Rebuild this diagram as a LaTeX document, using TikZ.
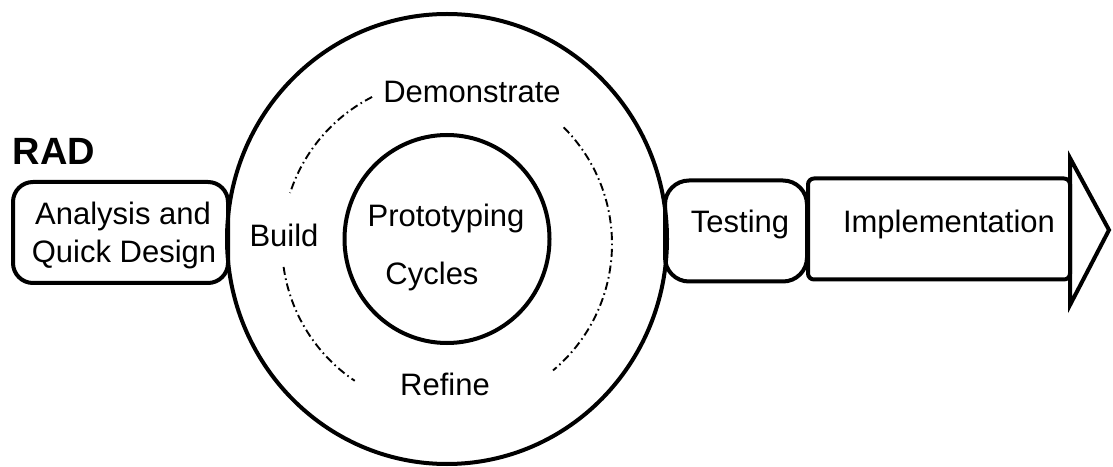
\documentclass[tikz,border=0pt]{standalone}
\usepackage{fontspec}
\setmainfont{Liberation Sans}
\begin{document}
\begin{tikzpicture}[x=0.5pt,y=0.5pt,
  heavy/.style={line width=2pt},
  txt/.style={font=\fontsize{15.5}{18.5}\selectfont, inner sep=0pt, anchor=base},
  stagebox/.style={draw, heavy, inner sep=0pt, minimum height=50.5pt},
  cycleline/.style={line width=0.95pt, dash pattern=on 4pt off 1.8pt on 0.8pt off 1.8pt},
]
\useasboundingbox (0,0) rectangle (1113,466);

% title
\node[txt, font=\fontsize{19}{22}\selectfont\bfseries] (rad) at (54,301) {RAD};

% first stage
\node[stagebox, rounded corners=10pt, minimum width=107.5pt] (analysis) at (120.5,233.5) {};
\node[txt] (analysisA) at (123,241) {Analysis and};
\node[txt] (analysisB) at (124,203) {Quick Design};

% prototyping cycles
\coordinate (c) at (447,227);
\coordinate (cd) at (447,222);
\draw[heavy] (c) ellipse [x radius=220, y radius=225];
\draw[heavy] (c) ellipse [x radius=102.5, y radius=104];

\draw[cycleline] ([shift={(117:165)}]cd) arc[start angle=117, end angle=162, radius=165];
\draw[cycleline] ([shift={(188:165)}]cd) arc[start angle=188, end angle=236, radius=165];
\draw[cycleline] ([shift={(45:165)}]cd) arc[start angle=45, end angle=-50, radius=165];

\node[txt] (demo) at (472,363) {Demonstrate};
\node[txt] (build) at (284,219) {Build};
\node[txt] (refine) at (445,71) {Refine};
\node[txt] (proto) at (446,239) {Prototyping};
\node[txt] (cycles) at (432,181) {Cycles};

% testing
\node[stagebox, rounded corners=12pt, minimum width=71pt] (testing) at (736,235) {};
\node[txt] (testingT) at (740,233) {Testing};

% implementation arrow
\node[stagebox, rounded corners=3pt, minimum width=131pt] (impl) at (939,237) {};
\node[txt] (implT) at (949,233) {Implementation};
\coordinate (headTop) at (1070,308);
\coordinate (headTip) at (1109,236);
\coordinate (headBot) at (1070,161);
\draw[heavy, line join=miter] (headTop) -- (headTip) -- (headBot) -- cycle;
\end{tikzpicture}
\end{document}
